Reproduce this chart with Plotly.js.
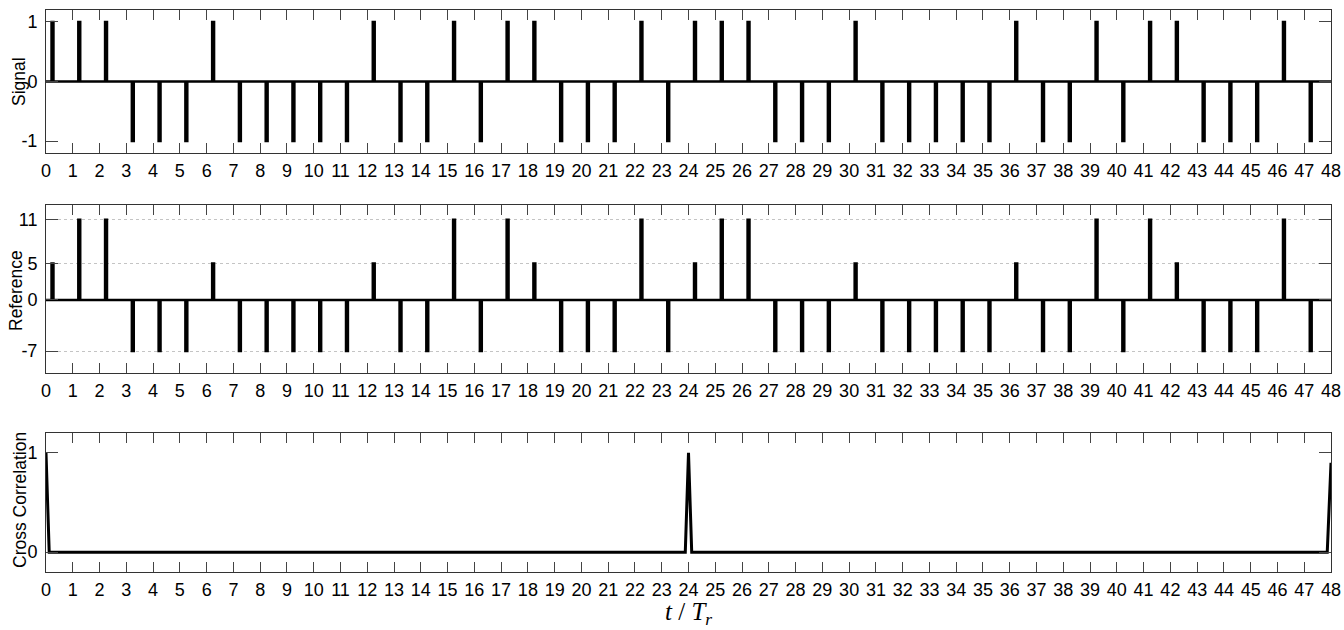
<!DOCTYPE html>
<html>
<head>
<meta charset="utf-8">
<script src="https://cdn.plot.ly/plotly-3.0.1.min.js"></script>
<style>
  html, body { margin: 0; padding: 0; background: #fff; }
  #chart { width: 1344px; height: 630px; }
</style>
</head>
<body>
<div id="chart"></div>
<script>
// ---- data ----
// pulse slot index (one pulse per unit of t / T_r)
const slots = [0,1,2,3,4,5,6,7,8,9,10,11,12,13,14,15,16,17,18,19,20,21,22,23,
               24,25,26,27,28,29,30,31,32,33,34,35,36,37,38,39,40,41,42,43,44,45,46,47];
// signal pulse amplitudes
const signalValues = [1,1,1,-1,-1,-1,1,-1,-1,-1,-1,-1,1,-1,-1,1,-1,1,1,-1,-1,-1,1,-1,
                      1,1,1,-1,-1,-1,1,-1,-1,-1,-1,-1,1,-1,-1,1,-1,1,1,-1,-1,-1,1,-1];
// reference pulse amplitudes
const referenceValues = [5,11,11,-7,-7,-7,5,-7,-7,-7,-7,-7,5,-7,-7,11,-7,11,5,-7,-7,-7,11,-7,
                         5,11,11,-7,-7,-7,5,-7,-7,-7,-7,-7,5,-7,-7,11,-7,11,5,-7,-7,-7,11,-7];
// cross correlation curve
const ccT = [0, 0.12, 23.88, 24, 24.12, 47.86, 48];
const ccValues = [1, 0, 0, 1, 0, 0, 0.9];
// tick values / labels
const xTicks = [0,1,2,3,4,5,6,7,8,9,10,11,12,13,14,15,16,17,18,19,20,21,22,23,24,
                25,26,27,28,29,30,31,32,33,34,35,36,37,38,39,40,41,42,43,44,45,46,47,48];
const signalTicks = [-1, 0, 1];
const referenceTicks = [-7, 0, 5, 11];
const ccTicks = [0, 1];

// ---- pulse-train construction (shape constants, not data) ----
const PULSE_START = 0.205, PULSE_END = 0.28, T_END = 48;
function pulseTrain(vals) {
  const x = [0], y = [0];
  slots.forEach((k, i) => {
    x.push(k + PULSE_START, k + PULSE_START, k + PULSE_END, k + PULSE_END);
    y.push(0, vals[i], vals[i], 0);
  });
  x.push(T_END); y.push(0);
  return {x, y};
}
const sig = pulseTrain(signalValues);
const ref = pulseTrain(referenceValues);

const W = 1344, H = 630;
const xDom = [46 / W, 1331 / W];
const font = 'Liberation Sans, Arial, Helvetica, sans-serif';

const traces = [
  {x: sig.x, y: sig.y, xaxis: 'x', yaxis: 'y', mode: 'lines', line: {color: '#000', width: 2.4}, hoverinfo: 'skip'},
  {x: ref.x, y: ref.y, xaxis: 'x2', yaxis: 'y2', mode: 'lines', line: {color: '#000', width: 2.4}, hoverinfo: 'skip'},
  {x: ccT, y: ccValues, xaxis: 'x3', yaxis: 'y3', mode: 'lines', line: {color: '#000', width: 3}, hoverinfo: 'skip'}
];

function xAxis(anchor) {
  return {
    domain: xDom, anchor: anchor, range: [0, 48],
    tickmode: 'array', tickvals: xTicks, ticktext: xTicks.map(String),
    ticks: 'inside', ticklen: 10, tickwidth: 1, tickcolor: '#444',
    showline: true, linecolor: '#333', linewidth: 1, mirror: 'ticks',
    showgrid: false, zeroline: false, ticklabelstandoff: 1,
    tickfont: {family: font, size: 18, color: '#000'}
  };
}
function yAxis(anchor, dom, range, ticks, grid) {
  return {
    domain: dom, anchor: anchor, range: range,
    tickmode: 'array', tickvals: ticks, ticktext: ticks.map(String),
    ticks: 'inside', ticklen: 12, tickwidth: 1, tickcolor: '#444',
    showline: true, linecolor: '#333', linewidth: 1, mirror: 'ticks',
    showgrid: grid, gridcolor: '#c4c4c4', griddash: 'dot', gridwidth: 1,
    zeroline: false, ticklabelstandoff: 4,
    tickfont: {family: font, size: 18, color: '#000'}
  };
}

const layout = {
  width: W, height: H,
  margin: {l: 0, r: 0, t: 0, b: 0},
  paper_bgcolor: '#fff', plot_bgcolor: '#fff',
  showlegend: false,
  xaxis: xAxis('y'),
  xaxis2: xAxis('y2'),
  xaxis3: xAxis('y3'),
  yaxis: yAxis('x', [1 - 153 / H, 1 - 10 / H], [-1.2, 1.2], signalTicks, false),
  yaxis2: yAxis('x2', [1 - 373 / H, 1 - 205 / H], [-10, 13], referenceTicks, true),
  yaxis3: yAxis('x3', [1 - 572 / H, 1 - 433 / H], [-0.2, 1.2], ccTicks, false),
  annotations: [
    {text: 'Signal', xref: 'paper', yref: 'paper', x: 19 / W, y: 1 - 82 / H, textangle: -90,
     showarrow: false, xanchor: 'center', yanchor: 'middle', font: {family: font, size: 17.5, color: '#000'}},
    {text: 'Reference', xref: 'paper', yref: 'paper', x: 16 / W, y: 1 - 291 / H, textangle: -90,
     showarrow: false, xanchor: 'center', yanchor: 'middle', font: {family: font, size: 17.5, color: '#000'}},
    {text: 'Cross Correlation', xref: 'paper', yref: 'paper', x: 20 / W, y: 1 - 500 / H, textangle: -90,
     showarrow: false, xanchor: 'center', yanchor: 'middle', font: {family: font, size: 17.5, color: '#000'}},
    {text: '<i>t</i> / <i>T</i><sub><i>r</i></sub>', xref: 'paper', yref: 'paper', x: 688 / W, y: 1 - 596 / H,
     showarrow: false, xanchor: 'center', yanchor: 'top',
     font: {family: 'Liberation Serif, Times New Roman, serif', size: 25, color: '#000'}}
  ]
};

Plotly.newPlot('chart', traces, layout, {staticPlot: true, displayModeBar: false});
</script>
</body>
</html>
